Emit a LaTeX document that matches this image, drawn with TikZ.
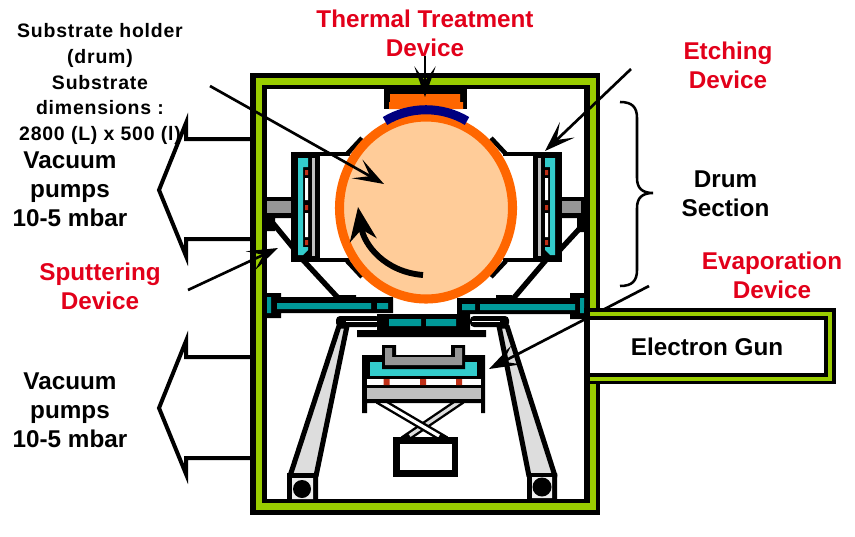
\documentclass[tikz,border=0pt]{standalone}
\usepackage{fontspec}
\setmainfont{Liberation Sans}
\newfontfamily\spacedfont[LetterSpace=4]{Liberation Sans}
\usepackage{xcolor}
\usetikzlibrary{arrows.meta}
\definecolor{framegreen}{HTML}{99CC00}
\definecolor{drumorange}{HTML}{FF6600}
\definecolor{drumfill}{HTML}{FFCC99}
\definecolor{heatblue}{HTML}{000080}
\definecolor{targetcyan}{HTML}{33CCCC}
\definecolor{plateteal}{HTML}{009999}
\definecolor{dotred}{HTML}{C03018}
\definecolor{pipegray}{HTML}{969696}
\definecolor{shieldgray}{HTML}{C0C0C0}
\definecolor{leggray}{HTML}{DDDDDD}
\definecolor{labelred}{HTML}{E2001A}
\newcommand{\sputterdev}{
  \draw[line width=3pt] (318,153.5) -- (350,153.5) (318,260) -- (350,260);
  \fill[black] (291,152) rectangle (320,262);
  \fill[targetcyan] (298,158) -- (308,158) -- (308,167) -- (303,167) -- (303,247) -- (308,247) -- (308,250) -- (303,255) -- (298,255) -- cycle;
  \fill[shieldgray] (312,158) rectangle (315,256);
  \fill[white] (305,178) rectangle (308,200) (305,213) rectangle (308,237);
  \fill[dotred] (305,170) rectangle (308,175) (305,205) rectangle (308,210) (305,240) rectangle (308,245);
  \draw[line width=3.4pt] (347,154) -- (362,138) (347,261) -- (362,277);
}
\begin{document}
\begin{tikzpicture}[x=0.75pt, y=-0.75pt,
  lbl/.style={font=\bfseries\fontsize{18.2}{21.75}\selectfont, align=center, inner sep=0pt},
  redlbl/.style={lbl, text=labelred},
  pumpline/.style={line width=3pt, miter limit=10},
  leader/.style={line width=2pt, -{Stealth[length=23pt, width=16pt, inset=11pt]}},
  scissor/.style={line width=6pt},
  scissorin/.style={line width=2.4pt, shorten >=6pt},
  leg/.style={draw=black, fill=leggray, line width=3.8pt, line join=round}
]
\useasboundingbox (0,0) rectangle (855,536);

% pump arrows
\draw[pumpline] (250,139) -- (186,139) -- (186,123) -- (159,190) -- (186,256) -- (186,239) -- (250,239);
\draw[pumpline] (250,357) -- (186,357) -- (186,341) -- (159,408) -- (186,474) -- (186,458) -- (250,458);

% chamber walls
\fill[black] (250,73) rectangle (600,515);
\fill[framegreen] (256,78) rectangle (596,510);
\fill[black] (262,85) rectangle (590,503);
\fill[white] (266.5,89) rectangle (584,499);

% pipes and struts
\fill[black] (266,197) rectangle (292,218) (266,213) rectangle (275,231);
\fill[pipegray] (267,201) rectangle (292,213);
\fill[black] (561,197) rectangle (584,218) (577,203) rectangle (584,232);
\fill[pipegray] (561,201) rectangle (581,213);
\draw[line width=4pt] (272,222) -- (295,250) (303,260) -- (340,300);
\draw[line width=4pt] (581,227) -- (558,252) (546,260) -- (512,300);

% sputtering devices
\sputterdev
\begin{scope}[shift={(853,0)}, xscale=-1]
\sputterdev
\end{scope}

% drum
\draw[drumorange, fill=drumfill, line width=6.8pt] (426,208) ellipse [x radius=86.5, y radius=91];

% thermal treatment device
\fill[black] (384,89) rectangle (467,109);
\fill[drumorange] (390,94) rectangle (460,102) (389,102) rectangle (463,109);
\draw[heatblue, line width=6.8pt] (385,121) .. controls (410,106) and (442,106) .. (467,121);

% flanges
\fill[black] (267,297) rectangle (393,313) (267,293) rectangle (281,318) (457,298) rectangle (584,314) (570,293) rectangle (584,319);
\fill[plateteal] (277,303) rectangle (371,309) (377,303) rectangle (388,309) (267,297) rectangle (271,313);
\fill[plateteal] (462,304) rectangle (475,310) (480,304) rectangle (575,310) (580,298) rectangle (584,313);
\fill[black] (337,295) rectangle (356,298) (496,295) rectangle (512,298);

% legs
\draw[leg] (339,326) -- (347,326) -- (316,476) -- (290,476) -- cycle;
\draw[leg] (499,326) -- (507,326) -- (555,476) -- (529,476) -- cycle;
\fill[black, rounded corners=3pt] (336,316) rectangle (380,327) (470,316) rectangle (509,327);
\draw[white, line width=0.8pt] (346,321.5) -- (378,321.5) (472,321.5) -- (500,321.5);
\fill[black] (377,314) rectangle (470,330) (357,330) rectangle (486,337);
\fill[plateteal] (389,319) rectangle (421,326) (426,319) rectangle (456,326);

% feet
\fill[black] (287,473) rectangle (318,499) (527,473) rectangle (557,499);
\fill[leggray!50] (292,478) rectangle (313,499) (532,477) rectangle (552,498);
\fill[black] (302,489) circle [radius=9] (542,487) circle [radius=9.5];

% scissor lift
\draw[scissor] (462,400) -- (403,440);
\draw[scissorin, leggray] (462,400) -- (403,440);
\draw[scissor] (378,400) -- (446,440);
\draw[scissorin, white] (378,400) -- (446,440);
\fill[black] (393,437) rectangle (458,477);
\fill[white] (400,444) rectangle (452,470);

% evaporation source
\fill[black] (362,355) rectangle (367,413) (481,355) rectangle (485,413) (362,355) rectangle (485,360) (362,385) rectangle (485,403);
\fill[shieldgray] (367,388) rectangle (481,399);
\fill[white] (367,379) rectangle (481,385);
\fill[black] (367,360) rectangle (481,379);
\fill[targetcyan] (370,362) rectangle (477,375.5);
\fill[dotred] (383.5,379) rectangle (389.5,385) (420,379) rectangle (426,385) (456,379) rectangle (462,385);
\fill[black] (382,345) rectangle (396,360) (451,345) rectangle (465,360) (382,355) rectangle (465,369);
\fill[pipegray] (385,348) -- (392,348) -- (392,357) -- (455,357) -- (455,348) -- (462,348) -- (462,365) -- (385,365) -- cycle;

% brace
\draw[line width=1.9pt] (620,102) .. controls (632,102) and (637,107) .. (637,118) -- (637,178) .. controls (637,188) and (642,193) .. (653,193) .. controls (642,193) and (637,198) .. (637,208) -- (637,270) .. controls (637,281) and (632,286) .. (620,286);

% leaders
\coordinate (thermaltail) at (425,56);
\coordinate (thermaltip) at (425,97);
\coordinate (etchtail) at (631,69);
\coordinate (etchtip) at (545,151);
\coordinate (holdertail) at (210,86);
\coordinate (holdertip) at (384,184);
\coordinate (sputtail) at (188,290);
\coordinate (sputtip) at (278,248);
\coordinate (evaptail) at (649,286);
\coordinate (evaptip) at (489,369);
\coordinate (rotstart) at (423,275);
\coordinate (rotend) at (358,207);
\draw[leader] (thermaltail) -- (thermaltip);
\draw[leader] (etchtail) -- (etchtip);
\draw[leader] (sputtail) -- (sputtip);
\draw[leader] (evaptail) -- (evaptip);
\draw[leader] (holdertail) -- (holdertip);
\draw[line width=4.4pt, -{Stealth[length=25pt, width=20pt, inset=8pt]}] (rotstart) .. controls (385,272) and (364,245) .. (rotend);

% electron gun
\fill[black] (584,308) rectangle (836,384);
\fill[framegreen] (590,312) rectangle (832,381);
\fill[black] (590,316) rectangle (828,377);
\fill[white] (590,320) rectangle (824,373);

% labels
\node[lbl, font=\spacedfont\bfseries\fontsize{14.6}{19.3}\selectfont] (holderlbl) at (100,84) {Substrate holder\\(drum)\\Substrate\\dimensions :\\2800 (L) x 500 (l)};
\node[redlbl] (thermallbl) at (425,33.5) {Thermal Treatment\\Device};
\node[redlbl] (etchlbl) at (728,65.5) {Etching\\Device};
\node[lbl] (drumlbl) at (725.5,194) {Drum\\Section};
\node[redlbl] (sputlbl) at (100,286) {Sputtering\\Device};
\node[redlbl] (evaplbl) at (772,275) {Evaporation\\Device};
\node[lbl] (gunlbl) at (707,347) {Electron Gun};
\node[lbl] (pumpupper) at (70,189) {Vacuum\\pumps\\10-5 mbar};
\node[lbl] (pumplower) at (70,410) {Vacuum\\pumps\\10-5 mbar};
\end{tikzpicture}
\end{document}
